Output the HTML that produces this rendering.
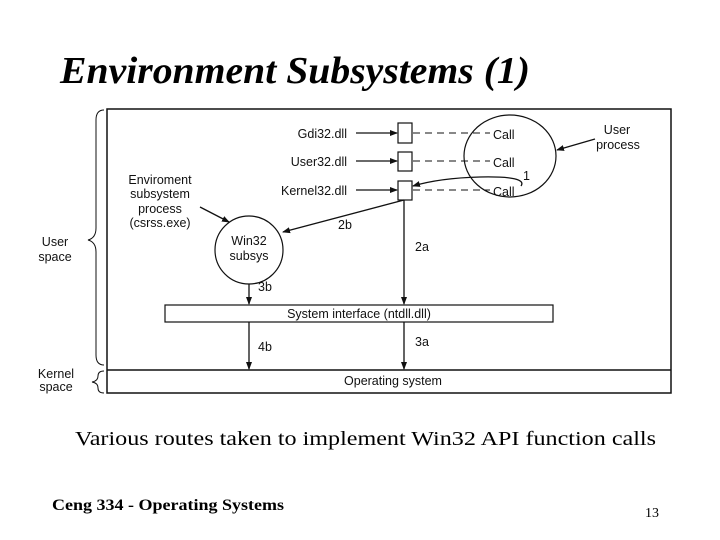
<!DOCTYPE html>
<html><head><meta charset="utf-8"><style>
html,body{margin:0;padding:0;background:#fff;}
svg{display:block;}
.s{font-family:"Liberation Sans",Arial,sans-serif;font-size:12.5px;fill:#111;}
</style></head><body>
<svg width="720" height="540" viewBox="0 0 720 540" xmlns="http://www.w3.org/2000/svg">
<defs>
<marker id="a" markerWidth="8" markerHeight="8" refX="7" refY="4" orient="auto" markerUnits="userSpaceOnUse">
<path d="M0,1 L8,4 L0,7 z" fill="#111"/></marker>
</defs>
<text x="60" y="83" font-family="Liberation Serif,serif" font-size="38" font-weight="bold" font-style="italic" textLength="470" lengthAdjust="spacingAndGlyphs">Environment Subsystems (1)</text>

<g stroke="#111" fill="none" stroke-width="1.5">
<rect x="107" y="109" width="564" height="284"/>
<line x1="107" y1="370" x2="671" y2="370"/>
<rect x="165" y="305" width="388" height="17" stroke-width="1.2"/>
<rect x="398" y="123" width="14" height="20" stroke-width="1.2"/>
<rect x="398" y="152" width="14" height="19" stroke-width="1.2"/>
<rect x="398" y="181" width="14" height="19" stroke-width="1.2"/>
<ellipse cx="510" cy="156" rx="46" ry="41" stroke-width="1.2"/>
<circle cx="249" cy="250" r="34" stroke-width="1.2"/>
<path d="M104,110 Q96,110 96,120 L96,228 Q96,238 88,240 Q96,242 96,252 L96,355 Q96,365 104,365" stroke-width="1"/>
<path d="M104,371 Q98,371 98,376 Q98,381 92,382 Q98,383 98,388 Q98,393 104,393" stroke-width="1"/>
<g stroke-dasharray="7,5" stroke-width="1">
<line x1="413" y1="133" x2="490" y2="133"/>
<line x1="413" y1="161" x2="490" y2="161"/>
<line x1="413" y1="190" x2="490" y2="190"/>
</g>
<g stroke-width="1.3" marker-end="url(#a)">
<line x1="356" y1="133" x2="397" y2="133"/>
<line x1="356" y1="161" x2="397" y2="161"/>
<line x1="356" y1="190" x2="397" y2="190"/>
<line x1="249" y1="284" x2="249" y2="304"/>
<line x1="249" y1="322" x2="249" y2="369"/>
<line x1="404" y1="200" x2="404" y2="304"/>
<line x1="404" y1="322" x2="404" y2="369"/>
<line x1="404" y1="200" x2="283" y2="232"/>
<line x1="200" y1="207" x2="229" y2="222"/>
<line x1="595" y1="139" x2="557" y2="150"/>
<path d="M521,186 Q528,176 480,177 Q440,178 413,186"/>
</g>
</g>
<g class="s">
<text x="347" y="138" text-anchor="end">Gdi32.dll</text>
<text x="347" y="166" text-anchor="end">User32.dll</text>
<text x="347" y="195" text-anchor="end">Kernel32.dll</text>
<text x="493" y="139">Call</text>
<text x="493" y="167">Call</text>
<text x="493" y="196">Call</text>
<text x="523" y="180">1</text>
<text x="617" y="134" text-anchor="middle">User</text>
<text x="618" y="149" text-anchor="middle">process</text>
<text x="160" y="184" text-anchor="middle">Enviroment</text>
<text x="160" y="198" text-anchor="middle">subsystem</text>
<text x="160" y="213" text-anchor="middle">process</text>
<text x="160" y="227" text-anchor="middle">(csrss.exe)</text>
<text x="249" y="245" text-anchor="middle">Win32</text>
<text x="249" y="260" text-anchor="middle">subsys</text>
<text x="338" y="229">2b</text>
<text x="415" y="251">2a</text>
<text x="258" y="291">3b</text>
<text x="258" y="351">4b</text>
<text x="415" y="346">3a</text>
<text x="359" y="318" text-anchor="middle">System interface (ntdll.dll)</text>
<text x="393" y="385" text-anchor="middle">Operating system</text>
<text x="55" y="246" text-anchor="middle">User</text>
<text x="55" y="261" text-anchor="middle">space</text>
<text x="56" y="378" text-anchor="middle">Kernel</text>
<text x="56" y="391" text-anchor="middle">space</text>
</g>
<text x="75" y="445" font-family="Liberation Serif,serif" font-size="20" textLength="581" lengthAdjust="spacingAndGlyphs">Various routes taken to implement Win32 API function calls</text>
<text x="52" y="510" font-family="Liberation Serif,serif" font-size="16" font-weight="bold" textLength="232" lengthAdjust="spacingAndGlyphs">Ceng 334 - Operating Systems</text>
<text x="645" y="517" font-family="Liberation Serif,serif" font-size="14">13</text>
</svg>
</body></html>
